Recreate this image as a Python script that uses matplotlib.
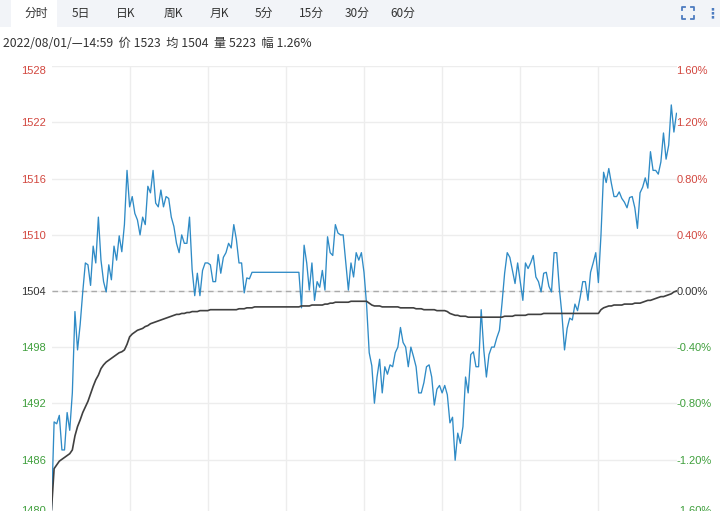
import matplotlib
matplotlib.use('Agg')
import matplotlib.pyplot as plt
from matplotlib.patches import Rectangle
from matplotlib.lines import Line2D

plt.rcParams['font.family'] = ['Noto Sans CJK SC', 'DejaVu Sans']

# data
tabs = ['分时', '5日', '日K', '周K', '月K', '5分', '15分', '30分', '60分']
info = '2022/08/01/—14:59  价 1523  均 1504  量 5223  幅 1.26%'
prev_close = 1504
pct_ticks = [1.6, 1.2, 0.8, 0.4, 0.0, -0.4, -0.8, -1.2, -1.6]

# one value per minute, 241 minutes
price = [
    1480.6, 1490.0, 1489.8, 1490.7, 1487.0, 1487.0, 1491.0, 1489.1, 1493.1, 1501.8,
    1497.7, 1500.4, 1503.9, 1507.0, 1506.8, 1504.6, 1508.8, 1507.0, 1511.9, 1507.3,
    1505.0, 1503.9, 1506.8, 1505.2, 1508.8, 1507.3, 1509.9, 1508.2, 1511.1, 1516.9,
    1513.0, 1514.1, 1512.3, 1511.6, 1510.0, 1511.9, 1511.1, 1515.2, 1514.5, 1516.9,
    1513.4, 1513.0, 1514.8, 1513.0, 1514.1, 1513.9, 1511.9, 1510.9, 1509.1, 1508.1,
    1510.0, 1509.1, 1509.1, 1511.9, 1506.3, 1503.5, 1505.9, 1503.5, 1506.2, 1507.0,
    1507.0, 1506.8, 1505.0, 1505.0, 1507.9, 1505.9, 1507.6, 1508.1, 1509.1, 1508.6,
    1511.1, 1509.5, 1507.0, 1507.0, 1503.8, 1505.4, 1505.3, 1506.0, 1506.0, 1506.0,
    1506.0, 1506.0, 1506.0, 1506.0, 1506.0, 1506.0, 1506.0, 1506.0, 1506.0, 1506.0,
    1506.0, 1506.0, 1506.0, 1506.0, 1506.0, 1506.0, 1502.2, 1508.9, 1507.0, 1504.1,
    1507.0, 1503.0, 1505.0, 1504.4, 1506.2, 1504.1, 1509.8, 1508.1, 1507.8, 1511.1,
    1510.2, 1510.0, 1510.0, 1507.0, 1504.1, 1507.0, 1505.5, 1508.1, 1507.3, 1508.1,
    1506.0, 1502.5, 1497.4, 1496.0, 1492.0, 1494.8, 1496.7, 1493.1, 1495.9, 1495.1,
    1496.1, 1495.9, 1497.4, 1498.0, 1500.1, 1498.5, 1498.0, 1495.9, 1498.0, 1497.0,
    1495.9, 1493.1, 1493.1, 1494.2, 1495.9, 1496.1, 1494.8, 1491.8, 1493.5, 1493.9,
    1493.1, 1493.9, 1492.9, 1489.9, 1490.5, 1485.9, 1488.8, 1487.7, 1489.5, 1494.8,
    1493.1, 1497.2, 1497.5, 1495.9, 1495.9, 1502.0, 1497.7, 1494.8, 1497.2, 1498.0,
    1498.0, 1499.0, 1499.8, 1502.7, 1505.9, 1508.1, 1507.6, 1506.2, 1504.8, 1507.0,
    1505.0, 1503.0, 1507.0, 1506.4, 1507.0, 1507.8, 1505.5, 1505.0, 1503.9, 1505.9,
    1506.0, 1504.5, 1503.9, 1508.1, 1508.1, 1504.3, 1501.5, 1497.7, 1500.0, 1501.1,
    1500.9, 1502.6, 1501.9, 1503.3, 1505.0, 1505.0, 1503.0, 1506.0, 1507.0, 1508.1,
    1504.9, 1510.0, 1516.7, 1515.6, 1517.1, 1515.5, 1514.1, 1514.1, 1514.6, 1513.9,
    1513.5, 1512.9, 1514.0, 1514.1, 1512.9, 1510.7, 1514.5, 1515.1, 1516.1, 1515.0,
    1518.9, 1516.9, 1516.9, 1516.5, 1517.8, 1520.9, 1518.1, 1519.6, 1523.9, 1521.0,
    1523.0,
]

avg = [
    1480.6, 1485.0, 1485.4, 1485.8, 1486.0, 1486.2, 1486.4, 1486.6, 1487.0, 1488.5,
    1489.5, 1490.2, 1491.0, 1491.6, 1492.2, 1493.0, 1493.8, 1494.5, 1495.0, 1495.7,
    1496.1, 1496.4, 1496.6, 1496.8, 1497.0, 1497.2, 1497.4, 1497.5, 1497.7, 1498.3,
    1499.1, 1499.4, 1499.6, 1499.8, 1499.9, 1500.0, 1500.2, 1500.3, 1500.5, 1500.6,
    1500.7, 1500.8, 1500.9, 1501.0, 1501.1, 1501.2, 1501.3, 1501.4, 1501.5, 1501.5,
    1501.6, 1501.6, 1501.7, 1501.7, 1501.8, 1501.8, 1501.8, 1501.9, 1501.9, 1501.9,
    1501.9, 1502.0, 1502.0, 1502.0, 1502.0, 1502.0, 1502.0, 1502.0, 1502.0, 1502.0,
    1502.0, 1502.0, 1502.1, 1502.1, 1502.1, 1502.2, 1502.2, 1502.2, 1502.3, 1502.3,
    1502.3, 1502.3, 1502.3, 1502.3, 1502.3, 1502.3, 1502.3, 1502.3, 1502.3, 1502.3,
    1502.3, 1502.3, 1502.3, 1502.3, 1502.3, 1502.3, 1502.4, 1502.4, 1502.4, 1502.4,
    1502.5, 1502.5, 1502.5, 1502.5, 1502.5, 1502.6, 1502.6, 1502.7, 1502.7, 1502.8,
    1502.8, 1502.8, 1502.8, 1502.8, 1502.8, 1502.9, 1502.9, 1502.9, 1502.9, 1502.9,
    1502.9, 1502.9, 1502.7, 1502.5, 1502.4, 1502.4, 1502.4, 1502.3, 1502.3, 1502.3,
    1502.3, 1502.3, 1502.3, 1502.3, 1502.2, 1502.2, 1502.2, 1502.2, 1502.2, 1502.2,
    1502.1, 1502.1, 1502.1, 1502.0, 1502.0, 1502.0, 1502.0, 1502.0, 1501.9, 1501.9,
    1501.9, 1501.9, 1501.8, 1501.6, 1501.5, 1501.4, 1501.4, 1501.3, 1501.3, 1501.3,
    1501.2, 1501.2, 1501.2, 1501.2, 1501.2, 1501.2, 1501.2, 1501.2, 1501.2, 1501.2,
    1501.2, 1501.2, 1501.2, 1501.2, 1501.3, 1501.3, 1501.3, 1501.3, 1501.4, 1501.4,
    1501.4, 1501.4, 1501.4, 1501.5, 1501.5, 1501.5, 1501.5, 1501.5, 1501.5, 1501.6,
    1501.6, 1501.6, 1501.6, 1501.6, 1501.6, 1501.6, 1501.6, 1501.6, 1501.6, 1501.6,
    1501.6, 1501.6, 1501.6, 1501.6, 1501.6, 1501.6, 1501.6, 1501.6, 1501.6, 1501.6,
    1501.6, 1502.0, 1502.2, 1502.3, 1502.4, 1502.4, 1502.5, 1502.5, 1502.5, 1502.5,
    1502.6, 1502.6, 1502.6, 1502.6, 1502.7, 1502.7, 1502.7, 1502.8, 1502.9, 1503.0,
    1503.0, 1503.1, 1503.2, 1503.3, 1503.4, 1503.4, 1503.5, 1503.6, 1503.7, 1503.9,
    1504.0,
]
assert len(price) == 241 and len(avg) == 241

W, H = 720, 511
UP, DOWN, FLAT = '#d2473f', '#3f9f3c', '#333333'

fig = plt.figure(figsize=(W / 100, H / 100), dpi=100)


def fx(px):
    return px / W


def fy(py):
    return 1 - py / H


# top tab bar
fig.patches.append(Rectangle((0, fy(27)), 1, 27 / H, transform=fig.transFigure,
                             facecolor='#f2f4f8', edgecolor='none', zorder=0))
fig.patches.append(Rectangle((fx(11), fy(27)), 46 / W, 27 / H, transform=fig.transFigure,
                             facecolor='white', edgecolor='none', zorder=1))
tab_x = [36, 81, 126, 173, 219, 264, 311, 357, 403]
for name, x in zip(tabs, tab_x):
    fig.text(fx(x), fy(13), name, ha='center', va='center', fontsize=8.5, color='#333333')

# fullscreen icon + menu dots
icon = '#4d7cc0'
cx, cy, r, k = 688, 13, 6, 3
for sx in (-1, 1):
    for sy in (-1, 1):
        x0, y0 = cx + sx * r, cy + sy * r
        fig.add_artist(Line2D([fx(x0 - sx * k), fx(x0), fx(x0)], [fy(y0), fy(y0), fy(y0 - sy * k)],
                              transform=fig.transFigure, color=icon, lw=1.3))
fig.text(fx(712), fy(13), '⋮', ha='center', va='center', fontsize=10, color=icon,
         family='DejaVu Sans', fontweight='bold')

fig.text(fx(3), fy(43), info, ha='left', va='center', fontsize=8.8, color='#333333')

# chart
ax = fig.add_axes([fx(51.5), fy(516), 625 / W, 450 / H])
minutes = list(range(len(price)))
ticks = [prev_close * (1 + p / 100) for p in pct_ticks]

ax.plot(minutes, price, color='#2f8bc6', lw=0.95, zorder=3)
ax.plot(minutes, avg, color='#404040', lw=1.2, zorder=3)
ax.axhline(prev_close, color='#aaaaaa', lw=1, ls=(0, (4, 3)), zorder=2)

ax.set_xlim(0, len(price) - 1)
ax.set_ylim(ticks[-1], ticks[0])
ax.set_xticks(range(30, 240, 30))
ax.set_yticks(ticks)
ax.grid(color='#ededed', lw=1)
ax.tick_params(axis='x', length=0, labelbottom=False)
ax.tick_params(axis='y', length=0, pad=4)
for s in ax.spines.values():
    s.set_visible(False)

ax2 = ax.twinx()
ax2.set_ylim(ax.get_ylim())
ax2.set_yticks(ticks)
ax2.tick_params(axis='y', length=0, pad=0)
for s in ax2.spines.values():
    s.set_visible(False)

ax.set_yticklabels([f'{round(t)}' for t in ticks], family='Liberation Sans', fontsize=8)
ax2.set_yticklabels([f'{p:.2f}%' for p in pct_ticks], family='Liberation Sans', fontsize=8)

for axis in (ax, ax2):
    labs = axis.get_yticklabels()
    for lab, p in zip(labs, pct_ticks):
        lab.set_color(UP if p > 0 else DOWN if p < 0 else FLAT)
    labs[0].set_verticalalignment('top')
    labs[-1].set_verticalalignment('bottom')

fig.savefig('out.png', dpi=100)
